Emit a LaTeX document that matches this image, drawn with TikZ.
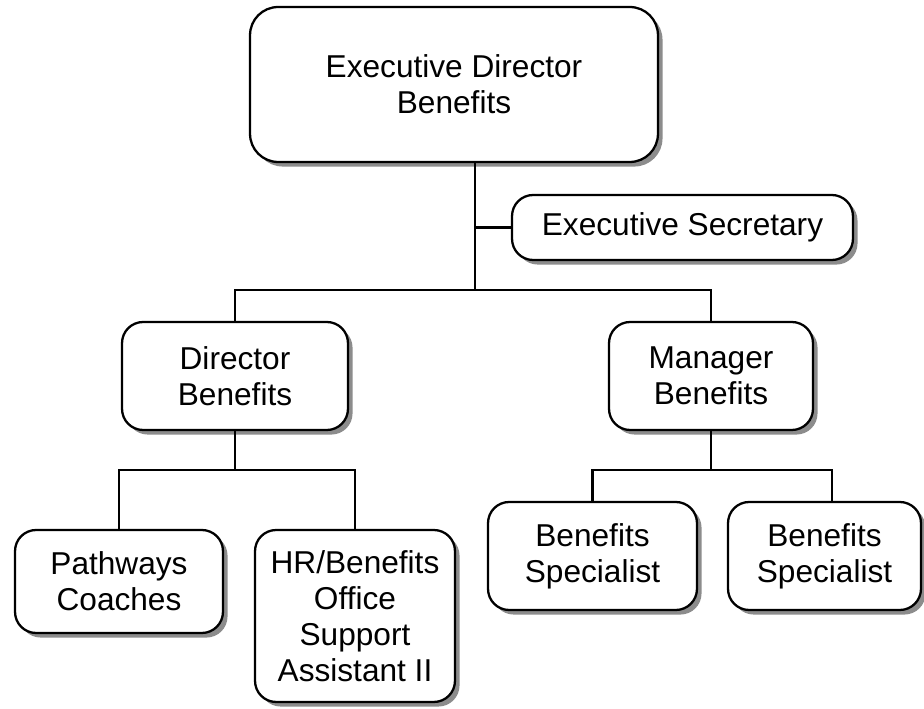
\documentclass[tikz,border=0pt]{standalone}
\usepackage{fontspec}
\setmainfont{Liberation Sans}
\usetikzlibrary{positioning,calc,shadows}

\begin{document}
\begin{tikzpicture}[x=0.02cm, y=-0.02cm,
		post/.style={draw, line width=1.3pt, fill=white, rounded corners=12pt, align=center,
			font=\fontsize{18}{20.5}\selectfont, inner sep=0pt,
			drop shadow={shadow xshift=2.6pt, shadow yshift=-2.6pt, fill=black!45, opacity=1}},
		link/.style={line width=1.2pt}]
		\useasboundingbox (0,0) rectangle (924,709);
		
		\node[post, minimum width=8.16cm, minimum height=3.1cm, rounded corners=16pt] (exec) at (454,84.5) {Executive Director\\Benefits};
		\node[post, minimum width=6.82cm, minimum height=1.3cm] (secr) at (682.5,227.5) {Executive Secretary};
		\node[post, minimum width=4.52cm, minimum height=2.16cm] (dirb) at (235,376) {Director\\Benefits};
		\node[post, minimum width=4.08cm, minimum height=2.16cm] (mgrb) at (711,376) {Manager\\Benefits};
		\node[post, minimum width=4.16cm, minimum height=2.06cm] (path) at (119,581.5) {Pathways\\Coaches};
		\node[post, minimum width=4cm, minimum height=3.44cm] (hros) at (355,616) {HR/Benefits\\Office\\Support\\Assistant II};
		\node[post, minimum width=4.18cm, minimum height=2.16cm] (spec1) at (592.5,556) {Benefits\\Specialist};
		\node[post, minimum width=3.86cm, minimum height=2.16cm] (spec2) at (824.5,556) {Benefits\\Specialist};
		
		\coordinate (bus) at (475,290);
		\coordinate (dbus) at (235,470);
		\coordinate (mbus) at (711,470);
		\coordinate (s2top) at ($(spec2.north)+(7.5,0)$);
		
		\draw[link] (exec.south -| bus) -- (bus);
		\draw[link] (secr.west) -- (secr.west -| bus);
		\draw[link] (dirb.north) -- (dirb.north |- bus) -- (mgrb.north |- bus) -- (mgrb.north);
		\draw[link] (dirb.south) -- (dbus);
		\draw[link] (path.north) -- (path.north |- dbus) -- (hros.north |- dbus) -- (hros.north);
		\draw[link] (mgrb.south) -- (mbus);
		\draw[link] (spec1.north) -- (spec1.north |- mbus) -- (s2top |- mbus) -- (s2top);
	\end{tikzpicture}
\end{document}
